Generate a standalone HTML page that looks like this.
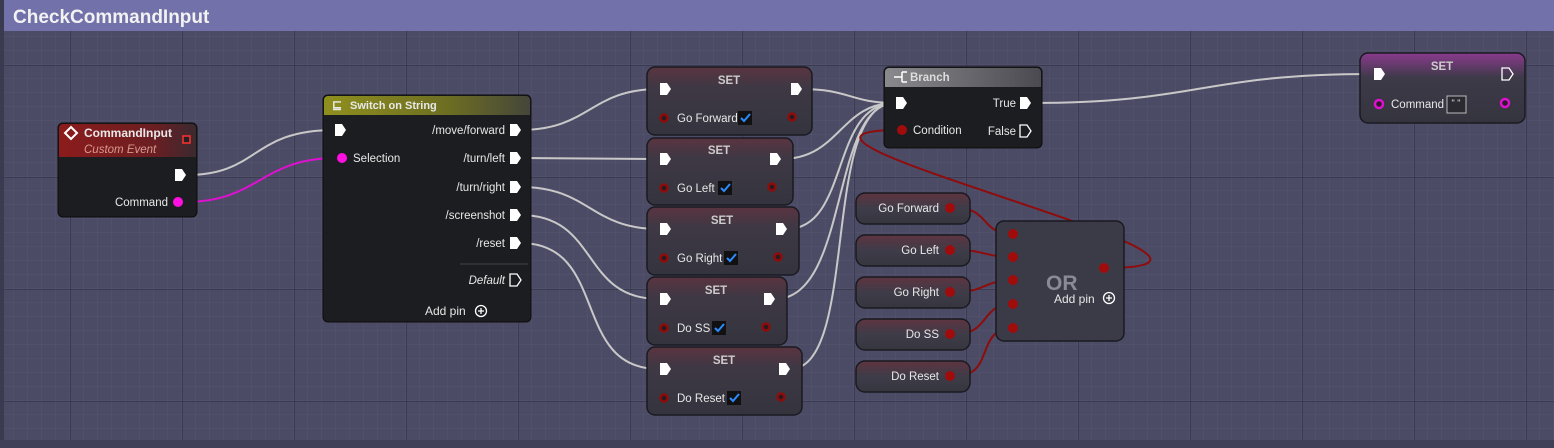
<!DOCTYPE html>
<html><head><meta charset="utf-8"><style>
html,body{margin:0;padding:0;width:1554px;height:448px;overflow:hidden;background:#4b4b66}
svg{display:block}
text{font-family:"Liberation Sans",sans-serif;fill:#e8e8e8;font-size:11.5px}
</style></head><body>
<svg width="1554" height="448" viewBox="0 0 1554 448" xmlns="http://www.w3.org/2000/svg">
<defs>
<pattern id="minor" x="0" y="9" width="14" height="14" patternUnits="userSpaceOnUse">
<path d="M14 0V14M0 14H14" stroke="#56566f" stroke-width="1" fill="none"/></pattern>
<pattern id="major" x="70" y="65" width="112" height="112" patternUnits="userSpaceOnUse">
<path d="M0.5 0V112M0 0.5H112" stroke="#3a3a50" stroke-width="1" fill="none"/></pattern>
<linearGradient id="redh" x1="0" y1="0" x2="1" y2="0"><stop offset="0" stop-color="#8c1c1c"/><stop offset="0.7" stop-color="#6a1e22"/><stop offset="1" stop-color="#3a2a30"/></linearGradient>
<linearGradient id="olh" x1="0" y1="0" x2="1" y2="0"><stop offset="0" stop-color="#8f8f1e"/><stop offset="0.6" stop-color="#6d6e22"/><stop offset="1" stop-color="#45463a"/></linearGradient>
<linearGradient id="grh" x1="0" y1="0" x2="1" y2="0"><stop offset="0" stop-color="#8a8a8e"/><stop offset="1" stop-color="#4a4a50"/></linearGradient>
<linearGradient id="setb" x1="0" y1="0" x2="0" y2="1"><stop offset="0" stop-color="#5a3440"/><stop offset="0.3" stop-color="#3e3844"/><stop offset="1" stop-color="#34343e"/></linearGradient>
<linearGradient id="setp" x1="0" y1="0" x2="0" y2="1"><stop offset="0" stop-color="#8a3a8e"/><stop offset="0.35" stop-color="#3e3a48"/><stop offset="1" stop-color="#34343e"/></linearGradient>
<linearGradient id="varb" x1="0" y1="0" x2="0" y2="1"><stop offset="0" stop-color="#5e3440"/><stop offset="0.5" stop-color="#3e3c48"/><stop offset="1" stop-color="#36363f"/></linearGradient>
</defs>
<rect width="1554" height="448" fill="#4b4b66"/>
<rect width="1554" height="448" fill="url(#minor)"/>
<rect width="1554" height="448" fill="url(#major)"/>
<rect x="0" y="0" width="4" height="448" fill="#3a3a50"/>
<rect x="0" y="440" width="1554" height="8" fill="#404058"/>
<!-- title -->
<rect x="4" y="0" width="1550" height="31" fill="#7271aa"/>
<text x="13" y="23" style="font-size:19px;font-weight:bold;fill:#f2f2f2">CheckCommandInput</text>

<!-- wires -->
<g fill="none" stroke-width="2">
<path d="M186 175 C260 175 250 130 335 130" stroke="#c8c8c8"/>
<path d="M184 202 C260 202 260 158 337 158" stroke="#e010d0"/>
<path d="M520 130 C590 130 590 89 659 89" stroke="#c8c8c8"/>
<path d="M520 158 L659 159" stroke="#c8c8c8"/>
<path d="M520 187 C590 187 590 229 659 229" stroke="#c8c8c8"/>
<path d="M520 215 C600 215 580 299 659 299" stroke="#c8c8c8"/>
<path d="M520 243 C610 243 570 369 659 369" stroke="#c8c8c8"/>
<path d="M801 89 C850 89 850 103 895 103" stroke="#c8c8c8"/>
<path d="M781 159 C840 159 840 103 895 103" stroke="#c8c8c8"/>
<path d="M787 229 C850 229 830 103 895 103" stroke="#c8c8c8"/>
<path d="M775 299 C850 299 830 103 895 103" stroke="#c8c8c8"/>
<path d="M790 369 C860 369 820 103 895 103" stroke="#c8c8c8"/>
<path d="M1031 103 C1200 103 1200 74 1373 74" stroke="#c8c8c8"/>
<g stroke="#8e0c0c">
<path d="M1104 268 C1320 268 700 130 901 130"/>
<path d="M956 208 C990 208 980 234 1013 234"/>
<path d="M956 250 C985 250 985 257 1013 257"/>
<path d="M956 292 C985 292 985 280 1013 280"/>
<path d="M956 334 C990 334 980 304 1013 304"/>
<path d="M956 376 C995 376 975 328 1013 328"/>
</g>
</g>

<!-- CommandInput -->
<rect x="58" y="123" width="139" height="94" rx="5" fill="#1c1d20" stroke="#0c0c0c"/>
<path d="M59 128 a4 4 0 0 1 4 -4 H192 a4 4 0 0 1 4 4 V157 H59Z" fill="url(#redh)"/>
<path d="M71 127 l6 6 -6 6 -6 -6z" fill="none" stroke="#fff" stroke-width="2"/>
<text x="84" y="137" style="font-weight:bold;font-size:12px">CommandInput</text>
<text x="84" y="153" style="font-style:italic;fill:#d89a90">Custom Event</text>
<rect x="183" y="136" width="7" height="7" fill="#222" stroke="#ff3030" stroke-width="1.5"/>
<polygon points="175,169 182,169 186,175 182,181 175,181" fill="#fff"/>
<text x="168" y="206" text-anchor="end">Command</text>
<circle cx="178" cy="202" r="5" fill="#ff10e0"/>

<!-- Switch -->
<rect x="323" y="95" width="208" height="227" rx="5" fill="#1c1d20" stroke="#0c0c0c"/>
<path d="M324 100 a4 4 0 0 1 4 -4 H526 a4 4 0 0 1 4 4 V115 H324Z" fill="url(#olh)"/>
<text x="332" y="109" style="font-weight:bold;font-size:12px">⊑</text>
<text x="350" y="109" style="font-weight:bold;font-size:11px">Switch on String</text>
<polygon points="335,124 342,124 346,130 342,136 335,136" fill="#fff"/>
<circle cx="342" cy="158" r="5" fill="#ff10e0"/>
<text x="353" y="162">Selection</text>
<g text-anchor="end">
<text x="505" y="134">/move/forward</text>
<text x="505" y="162">/turn/left</text>
<text x="505" y="191">/turn/right</text>
<text x="505" y="219">/screenshot</text>
<text x="505" y="247">/reset</text>
<text x="505" y="284" style="font-style:italic">Default</text>
</g>
<g fill="#fff">
<polygon points="510,124 517,124 521,130 517,136 510,136"/>
<polygon points="510,152 517,152 521,158 517,164 510,164"/>
<polygon points="510,181 517,181 521,187 517,193 510,193"/>
<polygon points="510,209 517,209 521,215 517,221 510,221"/>
<polygon points="510,237 517,237 521,243 517,249 510,249"/>
</g>
<polygon points="510,274 517,274 521,280 517,286 510,286" fill="none" stroke="#fff" stroke-width="1.3"/>
<line x1="460" y1="264" x2="528" y2="264" stroke="#444" />
<text x="425" y="315" style="font-size:12px">Add pin</text>
<circle cx="481" cy="311" r="5.5" fill="none" stroke="#fff" stroke-width="1.3"/>
<path d="M478 311h6M481 308v6" stroke="#fff" stroke-width="1.3"/>

<!-- SET nodes -->
<g>
<rect x="647" y="67" width="165" height="68" rx="8" fill="url(#setb)" stroke="#1a1a20" stroke-width="1.5"/>
<rect x="647" y="138" width="146" height="67" rx="8" fill="url(#setb)" stroke="#1a1a20" stroke-width="1.5"/>
<rect x="647" y="207" width="152" height="68" rx="8" fill="url(#setb)" stroke="#1a1a20" stroke-width="1.5"/>
<rect x="647" y="277" width="140" height="68" rx="8" fill="url(#setb)" stroke="#1a1a20" stroke-width="1.5"/>
<rect x="647" y="347" width="155" height="68" rx="8" fill="url(#setb)" stroke="#1a1a20" stroke-width="1.5"/>
</g>
<g text-anchor="middle" style="font-weight:bold">
<text x="729" y="84" style="font-weight:bold;fill:#ccc">SET</text>
<text x="719" y="154" style="font-weight:bold;fill:#ccc">SET</text>
<text x="722" y="224" style="font-weight:bold;fill:#ccc">SET</text>
<text x="716" y="294" style="font-weight:bold;fill:#ccc">SET</text>
<text x="724" y="364" style="font-weight:bold;fill:#ccc">SET</text>
</g>
<g fill="#fff">
<polygon points="660,83 667,83 671,89 667,95 660,95"/><polygon points="791,83 798,83 802,89 798,95 791,95"/>
<polygon points="660,153 667,153 671,159 667,165 660,165"/><polygon points="770,153 777,153 781,159 777,165 770,165"/>
<polygon points="660,223 667,223 671,229 667,235 660,235"/><polygon points="776,223 783,223 787,229 783,235 776,235"/>
<polygon points="660,293 667,293 671,299 667,305 660,305"/><polygon points="764,293 771,293 775,299 771,305 764,305"/>
<polygon points="660,363 667,363 671,369 667,375 660,375"/><polygon points="779,363 786,363 790,369 786,375 779,375"/>
</g>
<g fill="#2a1a1e" stroke="#8e0c0c" stroke-width="2.5">
<circle cx="664" cy="118" r="3.5"/><circle cx="792" cy="117" r="3.5"/>
<circle cx="664" cy="188" r="3.5"/><circle cx="772" cy="187" r="3.5"/>
<circle cx="664" cy="258" r="3.5"/><circle cx="778" cy="257" r="3.5"/>
<circle cx="664" cy="328" r="3.5"/><circle cx="766" cy="327" r="3.5"/>
<circle cx="664" cy="398" r="3.5"/><circle cx="781" cy="397" r="3.5"/>
</g>
<text x="677" y="122">Go Forward</text>
<text x="677" y="192">Go Left</text>
<text x="677" y="262">Go Right</text>
<text x="677" y="332">Do SS</text>
<text x="677" y="402">Do Reset</text>
<g fill="#111">
<rect x="738" y="111" width="14" height="14"/><rect x="718" y="181" width="14" height="14"/>
<rect x="724" y="251" width="14" height="14"/><rect x="712" y="321" width="14" height="14"/>
<rect x="727" y="391" width="14" height="14"/>
</g>
<g fill="none" stroke="#2b8cff" stroke-width="2">
<path d="M741 118l3 3 6-7"/><path d="M721 188l3 3 6-7"/><path d="M727 258l3 3 6-7"/><path d="M715 328l3 3 6-7"/><path d="M730 398l3 3 6-7"/>
</g>

<!-- Branch -->
<rect x="884" y="67" width="158" height="81" rx="5" fill="#1c1d20" stroke="#0c0c0c"/>
<path d="M885 72 a4 4 0 0 1 4 -4 H1037 a4 4 0 0 1 4 4 V87 H885Z" fill="url(#grh)"/>
<path d="M897 77h5M902 72v10M902 72h5M902 82h5M894 77h3" stroke="#fff" stroke-width="1.5" fill="none"/>
<text x="910" y="81" style="font-weight:bold;fill:#ddd">Branch</text>
<polygon points="896,97 903,97 907,103 903,109 896,109" fill="#fff"/>
<circle cx="902" cy="130" r="5" fill="#a00c0c"/>
<text x="913" y="134">Condition</text>
<text x="1016" y="107" text-anchor="end">True</text>
<text x="1016" y="135" text-anchor="end">False</text>
<polygon points="1020,97 1027,97 1031,103 1027,109 1020,109" fill="#fff"/>
<polygon points="1020,125 1027,125 1031,131 1027,137 1020,137" fill="none" stroke="#fff" stroke-width="1.3"/>

<!-- var getters -->
<g fill="url(#varb)" stroke="#1a1a20" stroke-width="1.5">
<rect x="856" y="193" width="114" height="31" rx="9"/>
<rect x="856" y="235" width="114" height="31" rx="9"/>
<rect x="856" y="277" width="114" height="31" rx="9"/>
<rect x="856" y="319" width="114" height="31" rx="9"/>
<rect x="856" y="361" width="114" height="31" rx="9"/>
</g>
<g text-anchor="end">
<text x="939" y="212">Go Forward</text><text x="939" y="254">Go Left</text><text x="939" y="296">Go Right</text><text x="939" y="338">Do SS</text><text x="939" y="380">Do Reset</text>
</g>
<g fill="#a00c0c">
<circle cx="950" cy="208" r="5"/><circle cx="950" cy="250" r="5"/><circle cx="950" cy="292" r="5"/><circle cx="950" cy="334" r="5"/><circle cx="950" cy="376" r="5"/>
</g>

<!-- OR -->
<rect x="996" y="221" width="128" height="120" rx="8" fill="#3b3b47" stroke="#1a1a20" stroke-width="1.5"/>
<g fill="#a00c0c">
<circle cx="1013" cy="234" r="5"/><circle cx="1013" cy="257" r="5"/><circle cx="1013" cy="280" r="5"/><circle cx="1013" cy="304" r="5"/><circle cx="1013" cy="328" r="5"/><circle cx="1104" cy="268" r="5"/>
</g>
<text x="1046" y="290" style="font-size:21px;font-weight:bold;fill:#8a8a94">OR</text>
<text x="1054" y="303" style="font-size:12px">Add pin</text>
<circle cx="1109" cy="298" r="5.5" fill="none" stroke="#fff" stroke-width="1.3"/>
<path d="M1106 298h6M1109 295v6" stroke="#fff" stroke-width="1.3"/>

<!-- SET command -->
<rect x="1360" y="53" width="165" height="70" rx="8" fill="url(#setp)" stroke="#1a1a20" stroke-width="1.5"/>
<text x="1442" y="70" text-anchor="middle" style="font-weight:bold;fill:#ccc">SET</text>
<polygon points="1374,68 1381,68 1385,74 1381,80 1374,80" fill="#fff"/>
<polygon points="1502,68 1509,68 1513,74 1509,80 1502,80" fill="none" stroke="#fff" stroke-width="1.3"/>
<circle cx="1379" cy="104" r="4" fill="#2a1a2a" stroke="#e010d0" stroke-width="2.5"/>
<circle cx="1505" cy="103" r="4" fill="#2a1a2a" stroke="#e010d0" stroke-width="2.5"/>
<text x="1391" y="108">Command</text>
<rect x="1447" y="96" width="19" height="17" fill="#2a2a30" stroke="#bbb"/>
<text x="1456" y="106" text-anchor="middle" style="font-size:9px">" "</text>
</svg>
</body></html>
